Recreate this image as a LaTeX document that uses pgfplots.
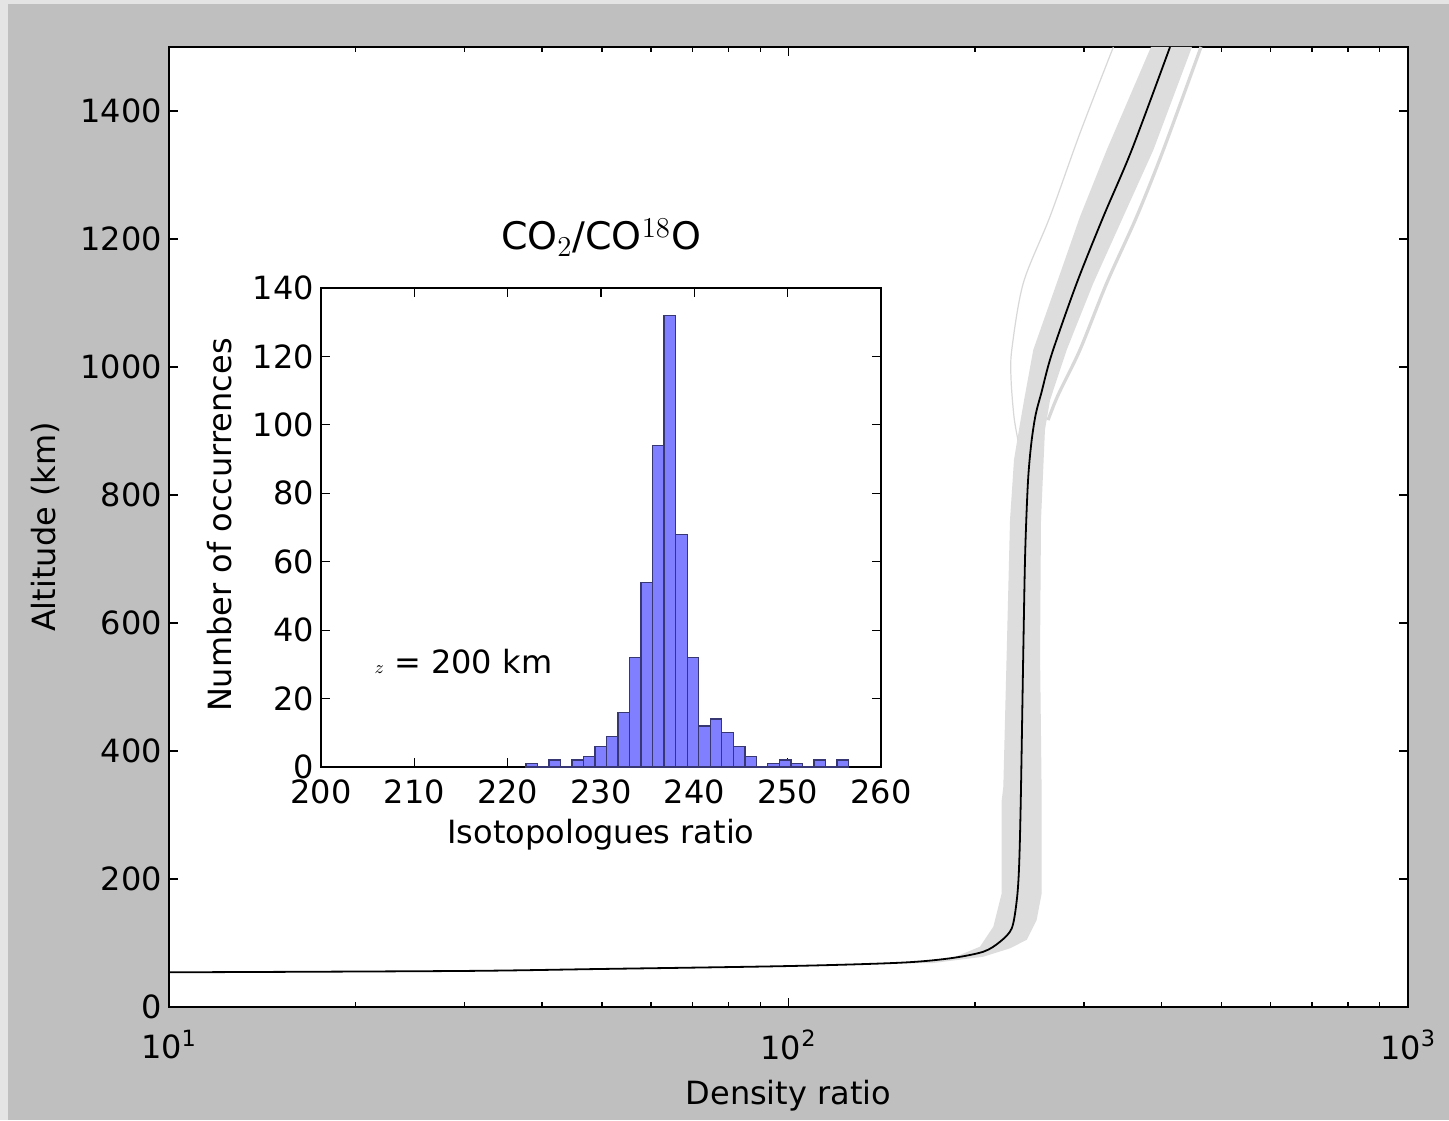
\documentclass[border=0pt]{standalone}
\usepackage{fontspec}
\setmainfont{DejaVu Sans}
\usepackage{pgfplots}
\pgfplotsset{compat=1.18}

\definecolor{figbg}{RGB}{191,191,191}
\definecolor{figedge}{RGB}{228,228,228}
\definecolor{band}{RGB}{221,221,221}
\definecolor{bandline}{RGB}{216,216,216}
\definecolor{barfill}{RGB}{127,127,255}
\definecolor{baredge}{RGB}{55,55,115}

\begin{document}
\begin{tikzpicture}
% figure canvas
\fill[figbg] (0,0) rectangle (724.5pt,560pt);
\useasboundingbox (0,0) rectangle (724.5pt,560pt);
\fill[figedge] (0,558pt) rectangle (724.5pt,560pt);
\fill[figedge] (0,0) rectangle (4pt,560pt);

\pgfplotsset{
  every axis/.append style={
    scale only axis,
    axis line style={line width=0.9pt},
    tick align=inside,
    tick style={black, line width=0.6pt},
    major tick length=4.5pt,
    minor tick length=2.5pt,
    tick label style={font=\fontsize{16}{19}\selectfont},
    label style={font=\fontsize{16}{19}\selectfont},
    title style={font=\fontsize{19}{22}\selectfont},
    /pgf/number format/assume math mode=true,
    /pgf/number format/1000 sep={},
    axis background/.style={fill=white},
  }
}

% ---- main panel: density ratio profiles ----
\begin{axis}[
  at={(84.5pt,56.5pt)}, anchor=south west,
  width=619.5pt, height=480pt,
  xmode=log, xmin=10, xmax=1000, ymin=0, ymax=1500,
  xtick={10,100,1000},
  xticklabels={10\textsuperscript{1},10\textsuperscript{2},10\textsuperscript{3}},
  xticklabel style={yshift=-8pt},
  minor xtick={20,30,40,50,60,70,80,90,200,300,400,500,600,700,800,900},
  ytick={0,200,...,1400},
  xlabel={Density ratio},
  ylabel={Altitude (km)},
  xlabel style={at={(axis description cs:0.5,-0.092)}, anchor=center},
  ylabel style={at={(axis description cs:-0.1,0.5)}, anchor=center},
]
% envelope of the Monte-Carlo profiles
\addplot[fill=band, draw=none] coordinates {
  (151.4,68.0) (182.3,75) (203.7,94.2) (214.1,125.5) (220.9,178)
  (220.9,323) (222.2,344) (225.0,553) (227.8,761) (231.2,855)
  (235.5,902) (240.0,948) (248.4,1027) (271.0,1131) (295.5,1235)
  (326.3,1339) (384.7,1500)
  (448.0,1500) (388.1,1339) (347.1,1235) (310.5,1131) (281.3,1027)
  (264.3,948) (259.4,902) (255.6,761) (254.7,553) (256.3,323)
  (256.3,178) (251.5,136) (242.4,105) (227.8,91.7) (206.3,78.6)
  (171.2,68.75)
} -- cycle;
% profiles lying apart from the envelope
\addplot[bandline, line width=1.6pt, smooth] coordinates {
  (262.4,917) (272.3,956) (295.5,1027) (326.3,1131) (364.8,1235)
  (402.7,1339) (463.3,1500)
};
\addplot[bandline, line width=0.6pt, smooth] coordinates {
  (234.6,886) (231.2,922) (228.7,980) (229.3,1027) (239.3,1131)
  (264.3,1235) (295.5,1365.6) (334.5,1500)
};
% nominal profile
\addplot[black, line width=0.9pt, smooth] coordinates {
  (10,54.2) (29.5,56.3) (49.6,59.4) (100,64) (151.4,69.2)
  (182.3,76.1) (206.3,86.4) (219.5,102) (229.3,123) (233.6,167)
  (235.6,219) (237.1,323) (239.3,553) (241.0,709) (243.5,820)
  (246.5,880) (250.5,925) (256.0,960) (266.0,1020) (291.9,1131)
  (322.3,1235) (358.1,1339) (412.9,1500)
};
\end{axis}

% ---- inset: histogram of the ratio at 200 km ----
\begin{axis}[
  at={(160.5pt,176.5pt)}, anchor=south west,
  width=280pt, height=239.5pt,
  xmin=200, xmax=260, ymin=0, ymax=140,
  xtick={200,210,...,260},
  ytick={0,20,...,140},
  xticklabel style={yshift=-3pt},
  xlabel={Isotopologues ratio},
  ylabel={Number of occurrences},
  title={CO$_2$/CO$^{18}$O},
  xlabel style={at={(axis description cs:0.5,-0.141)}, anchor=center},
  ylabel style={at={(axis description cs:-0.1804,0.505)}, anchor=center},
  title style={at={(axis description cs:0.5,1.08)}, anchor=center},
]
\addplot[ybar interval, fill=barfill, draw=baredge, line width=0.7pt] coordinates {
  (221.96,1) (223.19,0) (224.43,2) (225.66,0) (226.90,2) (228.13,3)
  (229.36,6) (230.60,9) (231.83,16) (233.07,32) (234.30,54) (235.53,94)
  (236.77,132) (238.00,68) (239.24,32) (240.47,12) (241.70,14) (242.94,10)
  (244.17,6) (245.41,3) (246.64,0) (247.87,1) (249.11,2) (250.34,1)
  (251.58,0) (252.81,2) (254.04,0) (255.28,2) (256.51,0)
};
\node[anchor=west, font=\fontsize{16}{19}\selectfont] at (axis cs:205.0,30.7)
  {{\small$z$} = 200 km};
\end{axis}
\end{tikzpicture}
\end{document}
